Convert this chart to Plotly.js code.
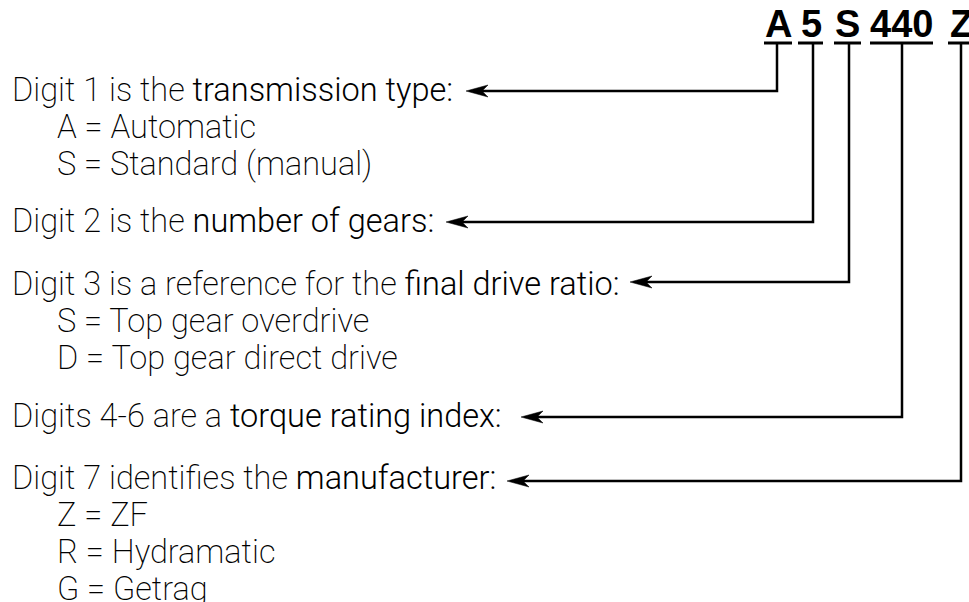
<!DOCTYPE html>
<html>
<head>
<meta charset="utf-8">
<script src="https://cdn.plot.ly/plotly-3.0.1.min.js"></script>
<style>html,body{margin:0;padding:0;background:#fff;}#chart{width:969px;height:602px;}</style>
</head>
<body>
<div id="chart"></div>
<script>
// ---- content ----
const codeParts = ['A', '5', 'S', '440', 'Z'];
const leadTexts = ['Digit 1 is the ', 'Digit 2 is the ', 'Digit 3 is a reference for the ', 'Digits 4-6 are a ', 'Digit 7 identifies the '];
const keyTerms = ['transmission type', 'number of gears', 'final drive ratio', 'torque rating index', 'manufacturer'];
const optionLines = [
  ['A = Automatic', 'S = Standard (manual)'],
  [],
  ['S = Top gear overdrive', 'D = Top gear direct drive'],
  [],
  ['Z = ZF', 'R = Hydramatic', 'G = Getrag']
];

// ---- layout geometry (pixels) ----
const partCenter = [778, 811, 847.5, 901.5, 961];
const partUnder = [[764, 792], [798, 823], [834, 861], [870, 933], [948, 975]];
const leaderX = [777, 813, 849, 902, 961];
const rowY = [91, 222, 282, 417, 481];
const tipX = [466, 446, 630, 521, 507];
const textY = [90, 221, 284, 416, 478];
const optStep = 37;
const underY = 43;

const shapes = [];
const annotations = [];
const BODY = 'Roboto, "Open Sans", sans-serif';
const FS = 32.5;

codeParts.forEach((p, i) => {
  annotations.push({
    xref: 'x', yref: 'y', x: partCenter[i], y: 24, text: '<b>' + p + '</b>', showarrow: false,
    xanchor: 'center', yanchor: 'middle',
    font: {family: '"Liberation Sans", Arial, sans-serif', size: 38, color: '#000'}
  });
  shapes.push({type: 'line', xref: 'x', yref: 'y', x0: partUnder[i][0], x1: partUnder[i][1], y0: underY, y1: underY,
    line: {color: '#000', width: 3}});
  // leader line
  const y = rowY[i];
  const xt = tipX[i];
  shapes.push({type: 'path', xref: 'x', yref: 'y',
    path: `M${leaderX[i]},${underY} V${y} H${xt + 14}`,
    line: {color: '#000', width: 2.5}, fillcolor: 'rgba(0,0,0,0)'});
  shapes.push({type: 'path', xref: 'x', yref: 'y',
    path: `M${xt},${y} L${xt + 22},${y - 6} L${xt + 16},${y} L${xt + 22},${y + 6} Z`,
    line: {color: '#000', width: 0.5}, fillcolor: '#000'});
  // text
  annotations.push({
    xref: 'x', yref: 'y', x: 10, y: textY[i], showarrow: false, xanchor: 'left', yanchor: 'middle',
    text: leadTexts[i] + '<span style="font-weight:300">' + keyTerms[i] + ':</span>',
    font: {family: BODY, size: FS, color: '#000', weight: 200}
  });
  optionLines[i].forEach((t, k) => {
    annotations.push({
      xref: 'x', yref: 'y', x: 55, y: textY[i] + optStep * (k + 1), showarrow: false, xanchor: 'left', yanchor: 'middle',
      text: t, font: {family: BODY, size: FS, color: '#000', weight: 200}
    });
  });
});

const layout = {
  width: 969, height: 602,
  margin: {l: 0, r: 0, t: 0, b: 0, pad: 0},
  paper_bgcolor: '#fff', plot_bgcolor: '#fff',
  xaxis: {range: [0, 969], visible: false, fixedrange: true},
  yaxis: {range: [602, 0], visible: false, fixedrange: true},
  showlegend: false,
  shapes: shapes,
  annotations: annotations
};

Plotly.newPlot('chart', [], layout, {staticPlot: true, displayModeBar: false});
</script>
</body>
</html>
